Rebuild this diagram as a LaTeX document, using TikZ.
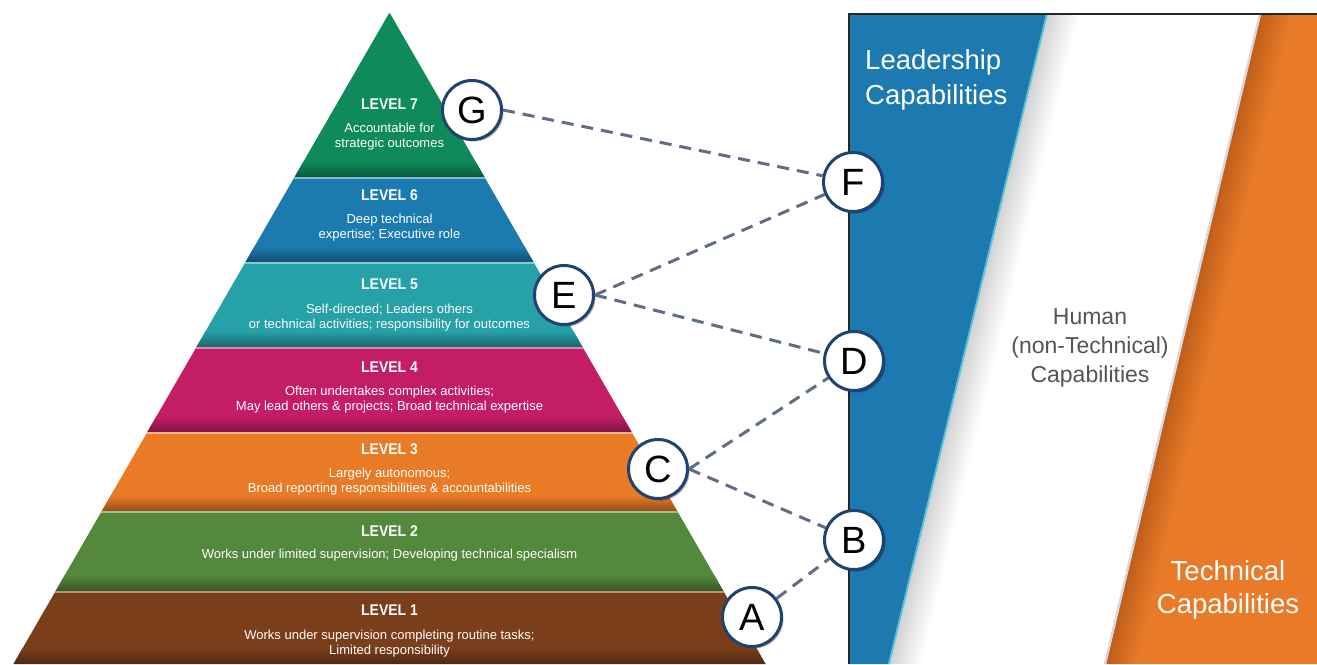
\documentclass[tikz,border=0pt]{standalone}
\usepackage{fontspec}
\setmainfont{Liberation Sans}
\newfontfamily\narrowfont[FakeStretch=0.9]{Liberation Sans}
\usetikzlibrary{shadows}
\definecolor{cseven}{HTML}{0F8A5B}
\definecolor{csix}{HTML}{1B7BB0}
\definecolor{cfive}{HTML}{26A1A8}
\definecolor{cfour}{HTML}{C31D66}
\definecolor{cthree}{HTML}{E97B27}
\definecolor{ctwo}{HTML}{54883C}
\definecolor{cone}{HTML}{7A3E1A}
\definecolor{panelblue}{HTML}{1C7AB0}
\definecolor{panelorange}{HTML}{E87A28}
\definecolor{edgecyan}{HTML}{62C3D4}
\definecolor{navy}{HTML}{1F4270}
\definecolor{dashc}{HTML}{5F6E85}
\definecolor{humangray}{HTML}{555555}
\tikzset{
  lvl/.style={inner sep=0pt, text=white, font=\narrowfont\bfseries\fontsize{15.5}{18}\selectfont},
  desc/.style={inner sep=0pt, text=white, align=center, font=\fontsize{13}{15}\selectfont},
  circ/.style={circle, draw=navy, line width=3pt, fill=white, minimum size=59pt, inner sep=0pt,
    font=\fontsize{38}{38}\selectfont,
    drop shadow={shadow xshift=2pt, shadow yshift=-2pt, opacity=0.3, fill=black}},
  link/.style={draw=dashc, line width=3pt, dash pattern=on 12pt off 8pt},
  bigtxt/.style={inner sep=0pt, font=\fontsize{27.5}{35}\selectfont}
}
\begin{document}
\begin{tikzpicture}[x=1pt,y=-1pt]
\useasboundingbox (0,0) rectangle (1317,664);
\fill[white] (0,0) rectangle (1317,664);

% ---------- right panel ----------
\fill[panelblue] (849,14) -- (1047,14) -- (889,664) -- (849,664) -- cycle;
\foreach \i in {1,...,14}
  \fill[black, opacity=0.012] (1048,14) -- ({1048+2.2*\i},14) -- ({890+2.2*\i},664) -- (890,664) -- cycle;
\draw[edgecyan, line width=2pt] (1047,14) -- (889,664);
\fill[panelorange] (1260,14) -- (1317,14) -- (1317,664) -- (1105,664) -- cycle;
\foreach \i in {1,...,14}
  \fill[black, opacity=0.012] (1260,14) -- ({1260+2.2*\i},14) -- ({1105+2.2*\i},664) -- (1105,664) -- cycle;
\draw[black!15, line width=2.5pt] (1260,14) -- (1105,664);
\draw[black!85, line width=1.5pt] (849,664) -- (849,14) -- (1317,14);

\node[bigtxt, text=white, anchor=west, align=left] (lead) at (865,80) {Leadership\\Capabilities};
\node[inner sep=0pt, text=humangray, align=center, font=\fontsize{23}{29}\selectfont] (human) at (1090,348) {Human\\(non-Technical)\\Capabilities};
\node[bigtxt, text=white, align=center, font=\fontsize{27.5}{33}\selectfont] (tech) at (1228,590) {Technical\\Capabilities};

% ---------- pyramid ----------
\begin{scope}
\clip (389.5,12.5) -- (765.5,664) -- (13.5,664) -- cycle;
\foreach \ya/\yb/\c in {12.5/177/cseven, 177/262/csix, 262/347/cfive, 347/432/cfour, 432/511/cthree, 511/591/ctwo, 591/664/cone} {
  \fill[\c] (0,\ya) rectangle (800,\yb);
  \shade[top color=\c, bottom color=\c!65!black] (0,{\yb-16}) rectangle (800,\yb);
  \draw[line width=1.5pt, \c!55!white] (0,{\ya+0.75}) -- (800,{\ya+0.75});
}
\end{scope}

\node[lvl] (t7) at (389.5,104) {LEVEL 7};
\node[desc] (d7) at (389.5,136.5) {Accountable for\\strategic outcomes};
\node[lvl] (t6) at (389.5,195) {LEVEL 6};
\node[desc] (d6) at (389.5,227.5) {Deep technical\\expertise; Executive role};
\node[lvl] (t5) at (389.5,284) {LEVEL 5};
\node[desc] (d5) at (389.5,317.5) {Self-directed; Leaders others\\or technical activities; responsibility for outcomes};
\node[lvl] (t4) at (389.5,367) {LEVEL 4};
\node[desc] (d4) at (389.5,400) {Often undertakes complex activities;\\May lead others \& projects; Broad technical expertise};
\node[lvl] (t3) at (389.5,449) {LEVEL 3};
\node[desc] (d3) at (389.5,481.5) {Largely autonomous;\\Broad reporting responsibilities \& accountabilities};
\node[lvl] (t2) at (389.5,531) {LEVEL 2};
\node[desc] (d2) at (389.5,555) {Works under limited supervision; Developing technical specialism};
\node[lvl] (t1) at (389.5,610) {LEVEL 1};
\node[desc] (d1) at (389.5,643.5) {Works under supervision completing routine tasks;\\Limited responsibility};

% ---------- circles ----------
\node[circ] (G) at (472,110) {G};
\node[circ] (F) at (853,182) {F};
\node[circ] (E) at (564,295) {E};
\node[circ] (D) at (854,361) {D};
\node[circ] (C) at (658,469) {C};
\node[circ] (B) at (854,540) {B};
\node[circ] (A) at (752,617) {A};

% ---------- connectors ----------
\draw[link] (G.east) -- (F);
\draw[link] (E.east) -- (F);
\draw[link] (E.east) -- (D);
\draw[link] (C.east) -- (D);
\draw[link] (C.east) -- (B);
\draw[link] (A) -- (B);
\end{tikzpicture}
\end{document}
